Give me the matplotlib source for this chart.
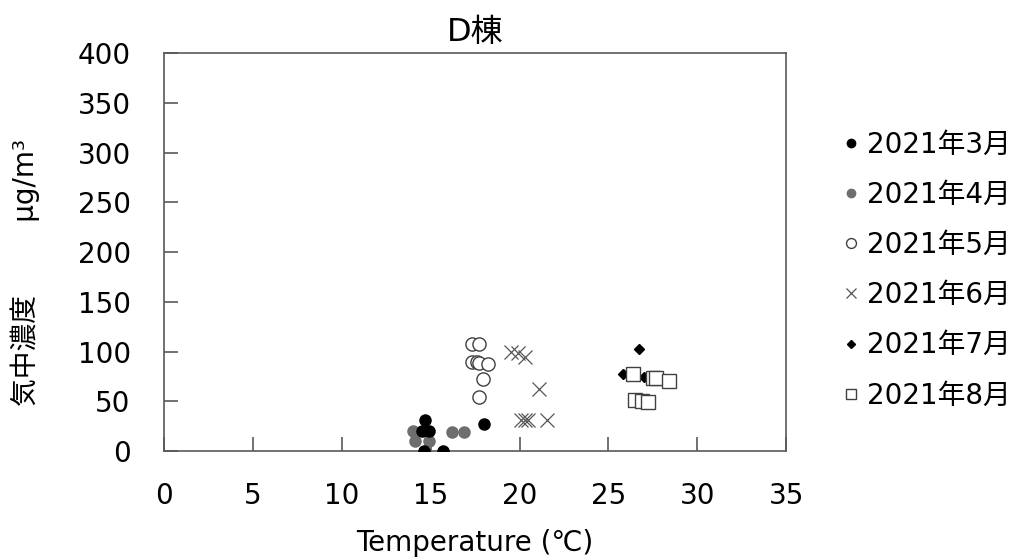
import matplotlib
matplotlib.use('Agg')
import matplotlib.pyplot as plt

plt.rcParams['font.family'] = ['DejaVu Sans', 'Noto Sans CJK JP']

# data: temperature (C) and concentration (ug/m3)
mar_x = [14.7, 14.5, 14.9, 14.6, 15.7, 18.0]
mar_y = [31, 20, 20, 0, 0, 27]
apr_x = [14.0, 14.1, 14.9, 16.2, 16.9]
apr_y = [20, 10, 10, 19, 19]
may_x = [17.3, 17.7, 17.3, 17.6, 17.7, 18.2, 17.95, 17.7]
may_y = [108, 108, 90, 90, 89, 87, 72, 54]
jun_x = [19.5, 19.9, 20.3, 21.1, 20.1, 20.3, 20.5, 21.55]
jun_y = [100, 99, 95, 62, 31, 31, 31, 31]
jul_x = [26.7, 25.8, 27.0]
jul_y = [103, 77, 74]
aug_x = [26.4, 27.5, 27.7, 28.4, 26.5, 26.9, 27.2]
aug_y = [77, 73, 73, 70, 51, 50, 49]

labels = ['2021年3月', '2021年4月', '2021年5月', '2021年6月', '2021年7月', '2021年8月']

fig = plt.figure(figsize=(10.25, 5.6), dpi=100)
ax = fig.add_axes([0.16, 0.1946, 0.607, 0.7104])

ax.plot(mar_x, mar_y, 'o', ms=8, color='black', label=labels[0], zorder=3)
ax.plot(apr_x, apr_y, 'o', ms=8, color='#6e6e6e', label=labels[1], zorder=2)
ax.plot(may_x, may_y, 'o', ms=9.5, mfc='white', mec='#404040', mew=1.0, label=labels[2])
ax.plot(jun_x, jun_y, 'x', ms=9.5, color='#555555', mew=0.9, label=labels[3])
ax.plot(jul_x, jul_y, 'D', ms=5.5, color='black', label=labels[4], zorder=2)
ax.plot(aug_x, aug_y, 's', ms=9.5, mfc='white', mec='#404040', mew=1.0, label=labels[5], zorder=3)

ax.set_xlim(0, 35)
ax.set_ylim(0, 400)
ax.set_xticks(range(0, 36, 5))
ax.set_yticks(range(0, 401, 50))
ax.tick_params(direction='in', length=10, width=1.2, color='#595959',
               labelsize=20)
ax.tick_params(axis='x', pad=22)
ax.tick_params(axis='y', pad=24)
for s in ax.spines.values():
    s.set_color('#595959')
    s.set_linewidth(1.2)

ax.set_title('D棟', fontsize=23, pad=9)
ax.set_xlabel('Temperature (℃)', fontsize=20, labelpad=14)
ax.set_ylabel('気中濃度　　  μg/m³', fontsize=20)
ax.yaxis.set_label_coords(-0.2, 0.45)

fig.legend(loc='center left', bbox_to_anchor=(0.792, 0.518), frameon=False,
           fontsize=20, labelspacing=0.8, handletextpad=0.1, handlelength=1.0,
           markerscale=0.75)

fig.savefig('out.png', dpi=100)
